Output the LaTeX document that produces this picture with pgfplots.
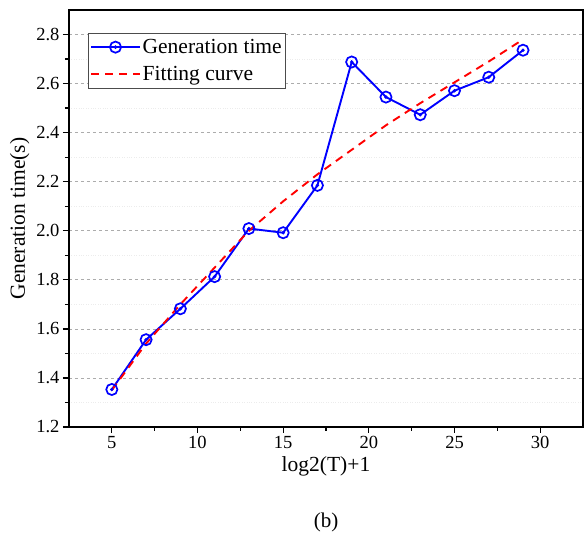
\documentclass[border=0pt]{standalone}
\usepackage{fontspec}
\setmainfont{Liberation Serif}
\usepackage{pgfplots}
\pgfplotsset{compat=1.18}

\pgfdeclareplotmark{cdot}{%
  \pgfpathcircle{\pgfpointorigin}{\pgfplotmarksize}\pgfusepathqstroke
  \pgfpathcircle{\pgfpointorigin}{0.7pt}\pgfusepathqfillstroke}

\begin{document}
\begin{tikzpicture}
\begin{axis}[
    scale only axis,
    width=514pt, height=417pt,
    xmin=2.5, xmax=32.5,
    ymin=1.2, ymax=2.9,
    xtick={5,10,...,30},
    ytick={1.2,1.4,...,2.81},
    minor x tick num=1,
    minor y tick num=1,
    tick align=outside,
    major tick length=6pt,
    minor tick length=4pt,
    xtick pos=bottom, ytick pos=left,
    yticklabel style={/pgf/number format/fixed,/pgf/number format/fixed zerofill,/pgf/number format/precision=1},
    /pgf/number format/assume math mode=true,
    ticklabel style={font=\fontsize{18.5}{21}\selectfont},
    label style={font=\fontsize{21.5}{25}\selectfont},
    xlabel={log2(T)+1},
    ylabel={Generation time(s)},
    xlabel style={yshift=-1pt},
    ymajorgrids, yminorgrids,
    major grid style={gray!65, dashed, line width=0.7pt},
    minor grid style={gray!15, dotted, line width=0.7pt},
    axis line style={line width=1.5pt},
    every tick/.style={black, line width=1.3pt},
    legend style={at={(0.037,0.945)}, anchor=north west, draw=black!70, line width=0.7pt,
      font=\fontsize{21.5}{25}\selectfont, inner xsep=2pt, inner ysep=4pt, row sep=7.5pt,
      nodes={inner sep=2pt}},
    legend cell align=left,
    legend image code/.code={
      \draw[mark repeat=2,mark phase=2] plot coordinates {(0cm,0cm) (0.85cm,0cm) (1.7cm,0cm)};},
    clip=false,
]
\addplot[blue, line width=1.9pt, mark=cdot, mark size=5.6pt, mark options={line width=1.7pt, solid}] coordinates {
  (5,1.353) (7,1.556) (9,1.682) (11,1.813) (13,2.009) (15,1.992) (17,2.185)
  (19,2.688) (21,2.545) (23,2.473) (25,2.571) (27,2.626) (29,2.736)
};
\addlegendentry{Generation time}
\addplot[red, line width=1.9pt, dash pattern=on 8pt off 6pt] coordinates {
  (5,1.35) (7,1.54) (9,1.70) (11,1.85) (13,2.00) (15,2.12) (17,2.23)
  (19,2.33) (21,2.43) (23,2.52) (25,2.605) (27,2.69) (29,2.78)
};
\addlegendentry{Fitting curve}
\end{axis}
\node[font=\fontsize{21}{24}\selectfont] at ([yshift=-95pt]current axis.south) {(b)};
\path (current axis.south west) ++(-69pt,-108pt) coordinate (bl);
\path (current axis.north east) ++(1pt,10pt) coordinate (tr);
\useasboundingbox (bl) rectangle (tr);
\end{tikzpicture}
\end{document}
